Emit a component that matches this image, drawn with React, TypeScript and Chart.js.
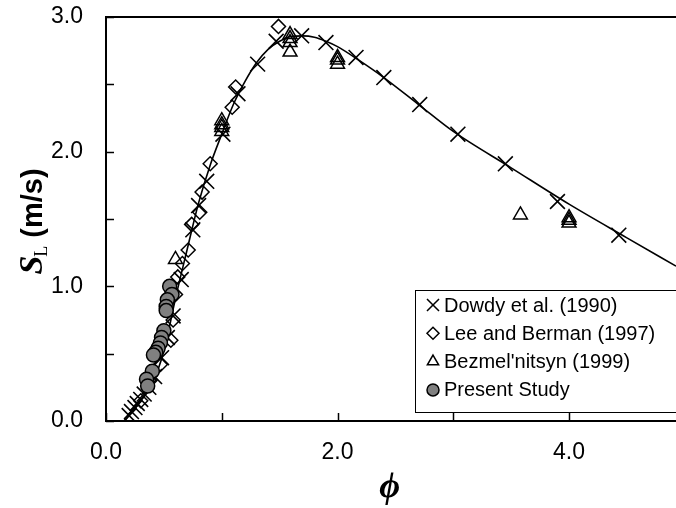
import React, { useEffect, useRef } from 'react';
import { Chart, registerables } from 'chart.js';
import { drawPoint } from 'chart.js/helpers';

Chart.register(...registerables);

// ---- data ----
const curvePhi = [0.16, 0.2, 0.3, 0.4, 0.5, 0.6, 0.7, 0.8, 0.9, 1.0, 1.1, 1.2, 1.3, 1.4, 1.5, 1.6, 1.7, 1.8, 1.9, 2.0, 2.2, 2.4, 2.7, 3.0, 3.5, 4.0, 4.5, 4.924];
const curveS = [0.0, 0.04, 0.15, 0.28, 0.52, 0.91, 1.27, 1.62, 1.9, 2.13, 2.35, 2.52, 2.66, 2.76, 2.82, 2.855, 2.86, 2.85, 2.82, 2.78, 2.67, 2.55, 2.35, 2.15, 1.88, 1.61, 1.36, 1.15];

const dowdyPhi = [0.2, 0.22, 0.25, 0.27, 0.3, 0.33, 0.37, 0.42, 0.48, 0.53, 0.58, 0.65, 0.75, 0.8, 0.87, 1.01, 1.14, 1.31, 1.47, 1.69, 1.9, 2.16, 2.4, 2.71, 3.04, 3.45, 3.9, 4.43];
const dowdyS = [0.04, 0.07, 0.1, 0.13, 0.16, 0.2, 0.25, 0.33, 0.47, 0.62, 0.78, 1.05, 1.42, 1.6, 1.78, 2.13, 2.43, 2.65, 2.82, 2.86, 2.81, 2.7, 2.55, 2.35, 2.13, 1.91, 1.63, 1.38];

const leePhi = [0.3, 0.38, 0.47, 0.56, 0.58, 0.6, 0.62, 0.66, 0.71, 0.74, 0.81, 0.83, 0.9, 1.09, 1.12, 1.49];
const leeS = [0.15, 0.3, 0.42, 0.6, 0.75, 0.94, 1.07, 1.17, 1.27, 1.46, 1.55, 1.7, 1.91, 2.33, 2.48, 2.93];

const bezPhi = [0.6, 1.0, 1.0, 1.0, 1.0, 1.59, 1.59, 1.59, 1.59, 2.0, 2.0, 2.0, 3.58, 4.0, 4.0, 4.0];
const bezS = [1.2, 2.15, 2.18, 2.2, 2.23, 2.87, 2.84, 2.81, 2.74, 2.7, 2.68, 2.65, 1.53, 1.51, 1.49, 1.47];

const presentPhi = [0.55, 0.57, 0.53, 0.52, 0.52, 0.5, 0.48, 0.47, 0.45, 0.43, 0.41, 0.4, 0.35, 0.36];
const presentS = [1.0, 0.94, 0.9, 0.85, 0.82, 0.67, 0.62, 0.58, 0.54, 0.51, 0.49, 0.37, 0.31, 0.26];

const seriesLabels = ['Dowdy et al. (1990)', 'Lee and Berman (1997)', "Bezmel'nitsyn (1999)", 'Present Study'];

const xTickValues = [0, 1, 2, 3, 4];
const xTickLabels = ['0.0', '', '2.0', '', '4.0'];
const yTickValues = [0, 0.5, 1, 1.5, 2, 2.5, 3];
const yTickLabels = ['0.0', '', '1.0', '', '2.0', '', '3.0'];

const X_MIN = 0;
const X_MAX = 4.924;
const Y_MIN = 0;
const Y_MAX = 3;

const SANS = "'Liberation Sans', Arial, Helvetica, sans-serif";
const SERIF = "'Liberation Serif', 'Times New Roman', 'DejaVu Serif', serif";

const zip = (xs: number[], ys: number[]) => xs.map((x, i) => ({ x, y: ys[i] }));

const frame = {
  id: 'frame',
  afterDraw(chart: any) {
    const { ctx, chartArea } = chart;
    const xs = chart.scales.x;
    const ys = chart.scales.y;
    ctx.save();
    ctx.strokeStyle = '#000';
    // top border
    ctx.lineWidth = 2;
    ctx.beginPath();
    ctx.moveTo(chartArea.left - 1, chartArea.top);
    ctx.lineTo(chartArea.right + 20, chartArea.top);
    ctx.stroke();
    // inward tick marks
    ctx.lineWidth = 1.5;
    const tl = 8;
    xs.ticks.forEach((t: any) => {
      const px = Math.round(xs.getPixelForValue(t.value)) + 0.5;
      ctx.beginPath();
      ctx.moveTo(px, chartArea.bottom);
      ctx.lineTo(px, chartArea.bottom - tl);
      ctx.stroke();
    });
    ys.ticks.forEach((t: any) => {
      const py = Math.round(ys.getPixelForValue(t.value)) + 0.5;
      ctx.beginPath();
      ctx.moveTo(chartArea.left, py);
      ctx.lineTo(chartArea.left + tl, py);
      ctx.stroke();
    });

    // y axis title: S_L (m/s)
    ctx.save();
    ctx.translate(31, (chartArea.top + chartArea.bottom) / 2 + 2);
    ctx.rotate(-Math.PI / 2);
    ctx.fillStyle = '#000';
    ctx.textBaseline = 'alphabetic';
    const partS = 'S';
    const partL = 'L';
    const partU = ' (m/s)';
    const fS = `bold italic 34px ${SERIF}`;
    const fL = `18px ${SERIF}`;
    const fU = `bold 29px ${SANS}`;
    ctx.font = fS;
    const wS = ctx.measureText(partS).width;
    ctx.font = fL;
    const wL = ctx.measureText(partL).width;
    ctx.font = fU;
    const wU = ctx.measureText(partU).width;
    const total = wS + wL + wU;
    let x0 = -total / 2;
    const base = 11;
    ctx.font = fS;
    ctx.fillText(partS, x0, base);
    x0 += wS - 1;
    ctx.font = fL;
    ctx.fillText(partL, x0, base + 5);
    x0 += wL;
    ctx.font = fU;
    ctx.fillText(partU, x0, base);
    ctx.restore();

    // x axis title
    ctx.fillStyle = '#000';
    ctx.font = `bold italic 36px ${SERIF}`;
    ctx.textAlign = 'center';
    ctx.textBaseline = 'middle';
    ctx.fillText('\u03D5', xs.getPixelForValue(2.45), 488);

    // legend
    const datasets = chart.data.datasets
      .filter((d: any) => d.legendIndex !== undefined)
      .sort((a: any, b: any) => a.legendIndex - b.legendIndex);
    const lx = 415;
    const ly = 290;
    const rowH = 28.3;
    ctx.fillStyle = '#fff';
    ctx.fillRect(lx, ly, 300, 122);
    ctx.lineWidth = 1;
    ctx.strokeStyle = '#000';
    ctx.strokeRect(lx + 0.5, ly + 0.5, 300, 122);
    ctx.font = `20px ${SANS}`;
    ctx.textAlign = 'left';
    ctx.textBaseline = 'middle';
    datasets.forEach((d: any, i: number) => {
      const cy = ly + 15 + i * rowH;
      ctx.fillStyle = d.backgroundColor;
      ctx.strokeStyle = d.borderColor;
      ctx.lineWidth = d.legendLineWidth;
      drawPoint(ctx, { pointStyle: d.pointStyle, radius: d.legendRadius, rotation: 0, borderWidth: d.legendLineWidth }, 433, cy);
      ctx.fillStyle = '#000';
      ctx.fillText(d.label, 444, cy + 1);
    });
    ctx.restore();
  },
};

export default function App() {
  const ref = useRef<HTMLCanvasElement>(null);
  useEffect(() => {
    document.body.style.margin = '0';
    const canvas = ref.current!;
    const chart = new Chart(canvas, {
      type: 'scatter',
      data: {
        datasets: [
          {
            label: seriesLabels[3],
            data: zip(presentPhi, presentS),
            pointStyle: 'circle',
            pointRadius: 7,
            backgroundColor: '#808080',
            borderColor: '#000',
            borderWidth: 1.5,
            order: 0,
            legendIndex: 3,
            legendRadius: 6,
            legendLineWidth: 1.5,
          } as any,
          {
            label: seriesLabels[2],
            data: zip(bezPhi, bezS),
            pointStyle: 'triangle',
            pointRadius: 8,
            backgroundColor: 'rgba(255,255,255,0)',
            borderColor: '#000',
            borderWidth: 1.5,
            order: 1,
            legendIndex: 2,
            legendRadius: 6.5,
            legendLineWidth: 1.5,
          } as any,
          {
            label: seriesLabels[1],
            data: zip(leePhi, leeS),
            pointStyle: 'rectRot',
            pointRadius: 7,
            backgroundColor: 'rgba(255,255,255,0)',
            borderColor: '#000',
            borderWidth: 1.5,
            order: 2,
            legendIndex: 1,
            legendRadius: 6,
            legendLineWidth: 1.5,
          } as any,
          {
            label: seriesLabels[0],
            data: zip(dowdyPhi, dowdyS),
            pointStyle: 'crossRot',
            pointRadius: 10.5,
            backgroundColor: '#000',
            borderColor: '#000',
            borderWidth: 1.6,
            order: 3,
            legendIndex: 0,
            legendRadius: 8.5,
            legendLineWidth: 1.5,
          } as any,
          {
            type: 'line',
            label: 'fit',
            data: zip(curvePhi, curveS),
            showLine: true,
            borderColor: '#000',
            borderWidth: 1.6,
            pointRadius: 0,
            cubicInterpolationMode: 'monotone',
            fill: false,
            order: 10,
          } as any,
        ],
      },
      options: {
        responsive: false,
        animation: false,
        devicePixelRatio: 1,
        layout: { autoPadding: false, padding: { top: 17, right: 0, left: 0, bottom: 0 } },
        plugins: { legend: { display: false }, tooltip: { enabled: false } },
        scales: {
          x: {
            type: 'linear',
            min: X_MIN,
            max: X_MAX,
            afterBuildTicks: (s: any) => {
              s.ticks = xTickValues.map((v) => ({ value: v }));
            },
            afterFit: (s: any) => {
              s.height = 87;
              s.paddingLeft = 0;
              s.paddingRight = 0;
            },
            ticks: {
              autoSkip: false,
              maxRotation: 0,
              padding: 18,
              color: '#000',
              font: { family: SANS, size: 23 },
              callback: (v: any) => {
                const i = xTickValues.indexOf(Number(v));
                return i >= 0 ? xTickLabels[i] : '';
              },
            },
            grid: { display: false, drawTicks: false },
            border: { display: true, color: '#000', width: 2 },
          },
          y: {
            type: 'linear',
            min: Y_MIN,
            max: Y_MAX,
            afterBuildTicks: (s: any) => {
              s.ticks = yTickValues.map((v) => ({ value: v }));
            },
            afterFit: (s: any) => {
              s.width = 106;
              s.paddingTop = 0;
              s.paddingBottom = 0;
            },
            ticks: {
              autoSkip: false,
              padding: 23,
              color: '#000',
              font: { family: SANS, size: 23 },
              callback: (v: any) => {
                const i = yTickValues.indexOf(Number(v));
                return i >= 0 ? yTickLabels[i] : '';
              },
            },
            grid: { display: false, drawTicks: false },
            border: { display: true, color: '#000', width: 2 },
          },
        },
      },
      plugins: [frame],
    } as any);
    return () => chart.destroy();
  }, []);
  return (
    <div style={{ position: 'fixed', left: 0, top: 0, width: 676, height: 508, overflow: 'hidden', background: '#fff' }}>
      <canvas ref={ref} width={676} height={508} style={{ width: 676, height: 508, display: 'block' }} />
    </div>
  );
}
